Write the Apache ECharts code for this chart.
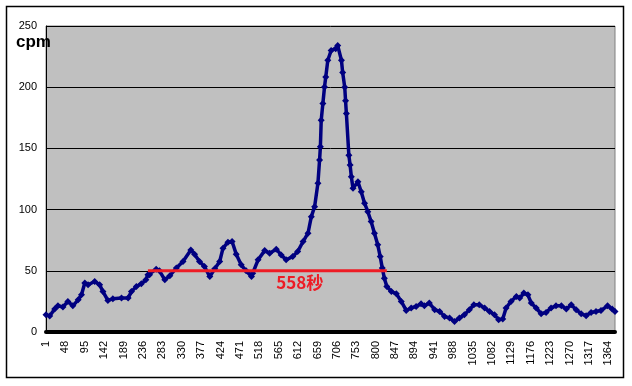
<!DOCTYPE html>
<html>
<head>
<meta charset="utf-8">
<script src="https://cdn.jsdelivr.net/npm/echarts@6/dist/echarts.min.js"></script>
<style>html,body{margin:0;padding:0;background:#fff}#c{width:632px;height:386px}</style>
</head>
<body>
<div id="c"></div>
<script>
// category axis: seconds 1..1380
const categoryCount = 1380;
const categories = [];
for (let i = 1; i <= categoryCount; i++) categories.push(String(i));

// sample positions (category index, 0-based) and counts per minute
const sampleIdx = [0,9,21,29,41,53,65,78,86,94,102,118,130,138,150,162,183,199,207,219,231,242,247,251,267,275,288,300,316,332,351,360,372,384,397,409,421,429,441,451,461,473,485,498,501,514,530,542,558,570,582,598,610,623,635,643,651,659,663,665,667,671,675,678,683,691,702,707,716,719,724,726,728,734,737,740,744,756,764,772,780,788,796,804,810,815,820,826,837,849,861,873,885,897,909,917,929,942,954,966,978,990,1002,1014,1026,1037,1050,1063,1075,1087,1097,1107,1115,1127,1140,1148,1158,1168,1176,1188,1200,1212,1224,1236,1249,1261,1273,1285,1297,1309,1321,1333,1345,1361,1372,1379];
const cpm = [14,13,18.7,21.4,20.4,25,21.4,26.3,30.4,40,38.6,41.3,38.6,33,25.8,27.1,27.7,27.7,33,37.2,39.4,42.6,46.7,46.7,51.3,50,42.6,46,52.2,57.6,67,63.6,57.6,53.5,45.3,51.6,57.6,68.5,73.4,73.9,63.6,54.9,50,45.3,48,59,66.5,64.4,67.7,63,59,61.6,65.7,73.9,80.7,94.2,102.4,121.5,140.5,151.3,173,186.7,200.2,208.4,222,230,231.5,234,222,212,200,189,178.5,144.5,136.4,126.8,117.4,122.8,114.6,105.2,98.3,90.2,80.7,71.2,61.6,52.2,44,37.2,33.1,31.2,25,17.6,19.6,20.9,23.1,21.4,23.6,18.2,16.8,12.7,11.4,8.6,11.4,14.1,18.2,22.3,22.3,19.6,16.8,14.1,10,10.6,19.6,25,29,27.7,31.8,30.4,23.6,19.6,14.9,16,19.6,21.4,21.4,18.7,22.3,18.2,14.9,13.3,16,16.8,17.6,21.4,18.7,16.8];

// threshold segment
const thresholdIdx = [247, 826];
const thresholdValue = 50;
const durationLabel = '558秒';
const durationAnchor = [615, 40];
const yTicks = [0, 50, 100, 150, 200, 250];

const chart = echarts.init(document.getElementById('c'), null, {renderer: 'canvas'});
chart.setOption({
  animation: false,
  backgroundColor: '#fff',
  grid: {left: 46, top: 26, right: 17, bottom: 54, show: true, backgroundColor: '#c0c0c0', borderColor: '#808080', borderWidth: 1},
  graphic: [
    {type: 'rect', shape: {x: 6.5, y: 6.5, width: 617, height: 371}, style: {fill: 'none', stroke: '#000', lineWidth: 1.5}, z: -1},
    {type: 'text', left: 16, top: 34, z: 100, style: {text: 'cpm', font: 'bold 17px "Liberation Sans", Arial, sans-serif', fill: '#000'}}
  ],
  xAxis: {
    type: 'category', data: categories, boundaryGap: false,
    axisLine: {show: true, lineStyle: {color: '#000', width: 4}},
    axisTick: {show: false},
    axisLabel: {interval: 46, rotate: 90, color: '#000', fontSize: 11, fontFamily: '"Liberation Sans", Arial, sans-serif', margin: 9},
    splitLine: {show: false}
  },
  yAxis: {
    type: 'value', min: yTicks[0], max: yTicks[yTicks.length - 1], interval: 50,
    axisLine: {show: true, lineStyle: {color: '#000', width: 1}},
    axisTick: {show: false},
    axisLabel: {color: '#000', fontSize: 11, fontFamily: '"Liberation Sans", Arial, sans-serif', margin: 9},
    splitLine: {show: true, lineStyle: {color: '#000', width: 1}}
  },
  series: [
    {
      type: 'line',
      data: sampleIdx.map((i, k) => [i, cpm[k]]),
      symbol: 'diamond', symbolSize: 7, showAllSymbol: true,
      lineStyle: {color: '#000080', width: 3.5},
      itemStyle: {color: '#000080'},
      z: 3
    },
    {
      type: 'line',
      data: thresholdIdx.map(i => [i, thresholdValue]),
      symbol: 'none',
      lineStyle: {color: '#ee1c25', width: 3},
      z: 4,
      markPoint: {
        symbol: 'rect', symbolSize: 1, itemStyle: {color: 'rgba(0,0,0,0)'},
        data: [{coord: durationAnchor, value: durationLabel}],
        label: {show: true, position: 'inside', formatter: durationLabel, color: '#ee1c25', fontSize: 17, fontWeight: 'bold', fontFamily: '"Noto Sans CJK JP", sans-serif'}
      }
    }
  ]
});
</script>
</body>
</html>
